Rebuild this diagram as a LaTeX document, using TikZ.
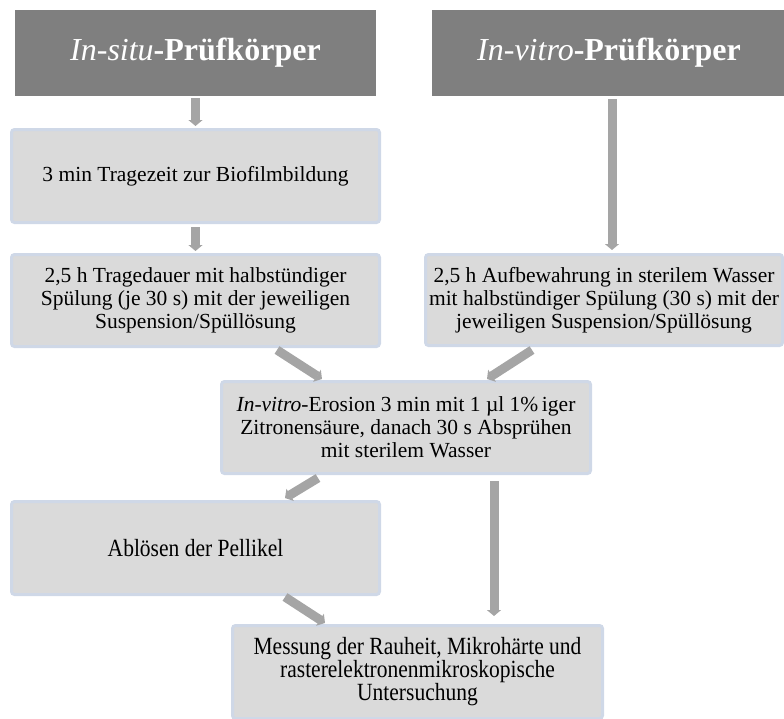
\documentclass[tikz,border=0pt]{standalone}
\usepackage{fontspec}
\setmainfont{Liberation Serif}
\usetikzlibrary{arrows.meta}
\definecolor{hdrfill}{HTML}{7F7F7F}
\definecolor{boxfill}{HTML}{DADADA}
\definecolor{boxline}{HTML}{CFD8E7}
\definecolor{arrcol}{HTML}{A5A5A5}
\newcommand{\tallline}[1]{\scalebox{1}[1.15]{#1}}
\tikzset{
  hdr/.style={fill=hdrfill, text=white, inner sep=0pt, minimum height=86pt,
    font=\fontsize{32}{36}\selectfont},
  stepbox/.style={fill=boxfill, draw=boxline, line width=3pt, rounded corners=3pt,
    inner sep=0pt, align=center, font=\fontsize{21.5}{23}\selectfont},
  flow/.style={draw=arrcol, line width=9pt,
    -{Triangle[width=14pt,length=6pt]}},
}
\begin{document}
\begin{tikzpicture}[x=1pt,y=-1pt]
\useasboundingbox (0,0) rectangle (784,718);
% headers
\node[hdr, minimum width=361pt] (h1) at (195.5,53) {\textit{In-situ}\textbf{-Prüfkörper}};
\node[hdr, minimum width=354pt] (h2) at (609,53) {\textit{In-vitro}\textbf{-Prüfkörper}};
% boxes
\node[stepbox, minimum width=368pt, minimum height=93pt] (b1) at (195.5,176)
  {3 min Tragezeit zur Biofilmbildung};
\node[stepbox, minimum width=368pt, minimum height=92pt] (b2) at (195.5,300.5)
  {2,5 h Tragedauer mit halbstündiger\\Spülung (je 30 s) mit der jeweiligen\\Suspension/Spüllösung};
\node[stepbox, minimum width=357pt, minimum height=91pt] (b3) at (604,300)
  {2,5 h Aufbewahrung in sterilem Wasser\\mit halbstündiger Spülung (30 s) mit der\\jeweiligen Suspension/Spüllösung};
\node[stepbox, minimum width=369pt, minimum height=92pt] (b4) at (406,427.5)
  {\textit{In-vitro}-Erosion 3 min mit 1 µl 1\%\,iger\\Zitronensäure, danach 30 s Absprühen\\mit sterilem Wasser};
\node[stepbox, minimum width=368pt, minimum height=93pt] (b5) at (195.5,548)
  {\tallline{Ablösen der Pellikel}};
\node[stepbox, minimum width=370pt, minimum height=93pt] (b6) at (417.5,672)
  {\tallline{Messung der Rauheit, Mikrohärte und}\\\tallline{rasterelektronenmikroskopische}\\\tallline{Untersuchung}};
% arrows
\draw[flow] ([yshift=-2pt]h1.south) -- ([yshift=2pt]b1.north);
\draw[flow] ([yshift=-3pt]b1.south) -- ([yshift=2pt]b2.north);
\draw[flow] ([xshift=3pt,yshift=-3pt]h2.south) -- ([xshift=8pt,yshift=3pt]b3.north);
\draw[flow] ([xshift=81.5pt,yshift=-2pt]b2.south) -- ([xshift=-84pt,yshift=1pt]b4.north);
\draw[flow] ([xshift=-72pt,yshift=-3pt]b3.south) -- ([xshift=81pt,yshift=1pt]b4.north);
\draw[flow] ([xshift=-88pt,yshift=-3pt]b4.south) -- ([xshift=89.5pt,yshift=2pt]b5.north);
\draw[flow] ([xshift=89.5pt,yshift=-1pt]b5.south) -- ([xshift=-92.5pt,yshift=1pt]b6.north);
\draw[flow] ([xshift=88pt,yshift=-6pt]b4.south) -- ([xshift=76.5pt,yshift=8pt]b6.north);
\end{tikzpicture}
\end{document}
